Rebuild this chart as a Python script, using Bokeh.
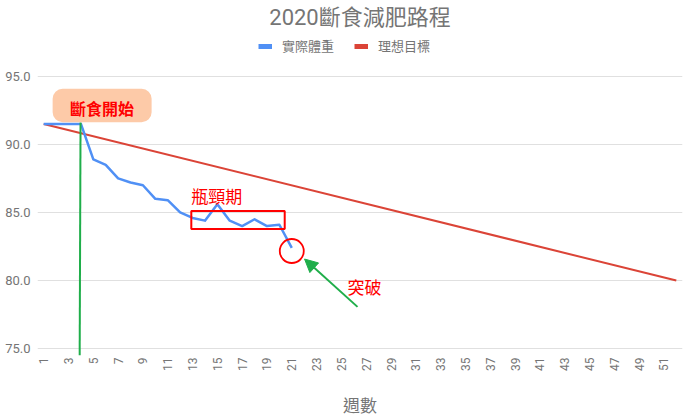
from bokeh.plotting import figure
from bokeh.models import (Range1d, FixedTicker, Label, BoxAnnotation, Arrow, NormalHead,
                          Legend, LegendItem, CustomJSTickFormatter)
from bokeh.embed import file_html
from bokeh.resources import INLINE

FONT = "Roboto, 'Noto Sans CJK TC', sans-serif"
CJK = "'Noto Sans CJK TC', Roboto, sans-serif"
GRAY = "#757575"
NAN = float("nan")

title_text = "2020斷食減肥路程"
series_names = ["實際體重", "理想目標"]
x_title = "週數"

weeks_actual = [1, 2, 3, 4, 5, 6, 7, 8, 9, 10, 11, 12, 13, 14, 15, 16, 17, 18, 19, 20, 21]
weight_actual = [91.5, 91.5, 91.5, 91.5, 88.9, 88.5, 87.5, 87.2, 87.0, 86.0, 85.9,
                 85.0, 84.6, 84.4, 85.6, 84.4, 84.0, 84.5, 84.0, 84.1, 82.4]
weeks_target = [1, 52]
weight_target = [91.5, 80.0]

x_ticks = [1, 3, 5, 7, 9, 11, 13, 15, 17, 19, 21, 23, 25, 27, 29, 31, 33, 35,
           37, 39, 41, 43, 45, 47, 49, 51]
y_ticks = [75, 80, 85, 90, 95]

BLUE = "#5090f5"
RED = "#db4437"
GREEN = "#1fae4a"

# frame covers the full top area so that title and legend (drawn inside) are not clipped
p = figure(width=686, height=419, output_backend="svg", toolbar_location=None,
           x_range=Range1d(0.5, 52.5), y_range=Range1d(74.5, 100.56),
           min_border_left=37, min_border_right=4, min_border_top=0, min_border_bottom=63)
p.outline_line_color = None
p.background_fill_color = "white"
p.border_fill_color = "white"

# axes
p.xaxis.ticker = FixedTicker(ticks=x_ticks)
p.xaxis.major_label_orientation = 1.5708
p.xaxis.axis_line_color = None
p.xaxis.major_tick_line_color = None
p.xaxis.minor_tick_line_color = None
p.xaxis.major_tick_out = 0
p.xaxis.major_label_standoff = 2
p.xaxis.major_label_text_font = FONT
p.xaxis.major_label_text_font_size = "12px"
p.xaxis.major_label_text_color = GRAY
p.xaxis.axis_label = x_title
p.xaxis.axis_label_text_font = CJK
p.xaxis.axis_label_text_font_size = "17px"
p.xaxis.axis_label_text_font_style = "normal"
p.xaxis.axis_label_text_color = GRAY
p.xaxis.axis_label_standoff = 18

p.yaxis.ticker = FixedTicker(ticks=y_ticks)
p.yaxis.formatter = CustomJSTickFormatter(code="return tick.toFixed(1);")
p.yaxis.axis_line_color = None
p.yaxis.major_tick_line_color = None
p.yaxis.minor_tick_line_color = None
p.yaxis.major_tick_out = 0
p.yaxis.major_label_standoff = 7
p.yaxis.major_label_text_font = FONT
p.yaxis.major_label_text_font_size = "13px"
p.yaxis.major_label_text_color = GRAY

p.xgrid.grid_line_color = None
p.ygrid.ticker = FixedTicker(ticks=y_ticks)
p.ygrid.grid_line_color = "#e0e0e0"
p.ygrid.grid_line_width = 1

# series
r_target = p.line(weeks_target, weight_target, line_color=RED, line_width=2)
r_actual = p.line(weeks_actual, weight_actual, line_color=BLUE, line_width=2.5,
                  line_join="round")

# legend swatches (non-drawing renderers used only for a thicker legend swatch)
sw_a = p.line(x=[NAN], y=[NAN], line_color=BLUE, line_width=5)
sw_t = p.line(x=[NAN], y=[NAN], line_color=RED, line_width=5)
legend = Legend(items=[LegendItem(label=series_names[0], renderers=[sw_a]),
                       LegendItem(label=series_names[1], renderers=[sw_t])],
                orientation="horizontal", location=(221, 300),
                glyph_width=14, glyph_height=6, label_standoff=10, spacing=20,
                padding=0, margin=0, border_line_color=None, background_fill_alpha=0,
                label_text_font=CJK, label_text_font_size="13px", label_text_color=GRAY)
p.add_layout(legend, "center")

# title
p.add_layout(Label(x=26.5, y=99.3, text=title_text, text_align="center",
                   text_baseline="middle", text_font=FONT, text_font_size="22px",
                   text_color=GRAY))

# annotation: start box
p.add_layout(BoxAnnotation(left=1.72, right=9.7, bottom=91.63, top=94.08,
                           fill_color="#fdcaa8", fill_alpha=1, line_color=None,
                           border_radius=10))
p.add_layout(Label(x=5.71, y=92.65, text="斷食開始", text_align="center",
                   text_baseline="middle", text_font=CJK, text_font_size="16px",
                   text_font_style="bold", text_color="#ff0000"))
# green vertical line
p.segment(x0=[3.97], y0=[91.6], x1=[3.9], y1=[74.5], line_color=GREEN, line_width=2)

# plateau box
p.add_layout(BoxAnnotation(left=12.9, right=20.43, bottom=83.78, top=85.1,
                           fill_alpha=0, line_color="#ff0000", line_alpha=1, line_width=2))
p.add_layout(Label(x=12.9, y=86.25, text="瓶頸期", text_align="left",
                   text_baseline="middle", text_font=CJK, text_font_size="17px",
                   text_color="#ff0000"))

# breakthrough circle, arrow and label
p.scatter(x=[21.0], y=[82.17], size=24, marker="circle", fill_alpha=0,
          line_color="#ff0000", line_width=1.8)
p.add_layout(Arrow(x_start=26.3, y_start=78.07, x_end=22.03, y_end=81.58,
                   line_color=GREEN, line_width=2,
                   end=NormalHead(size=13, fill_color=GREEN, line_color=GREEN)))
p.add_layout(Label(x=25.5, y=79.6, text="突破", text_align="left",
                   text_baseline="middle", text_font=CJK, text_font_size="17px",
                   text_color="#ff0000"))

open("out.html", "w").write(file_html(p, INLINE))
